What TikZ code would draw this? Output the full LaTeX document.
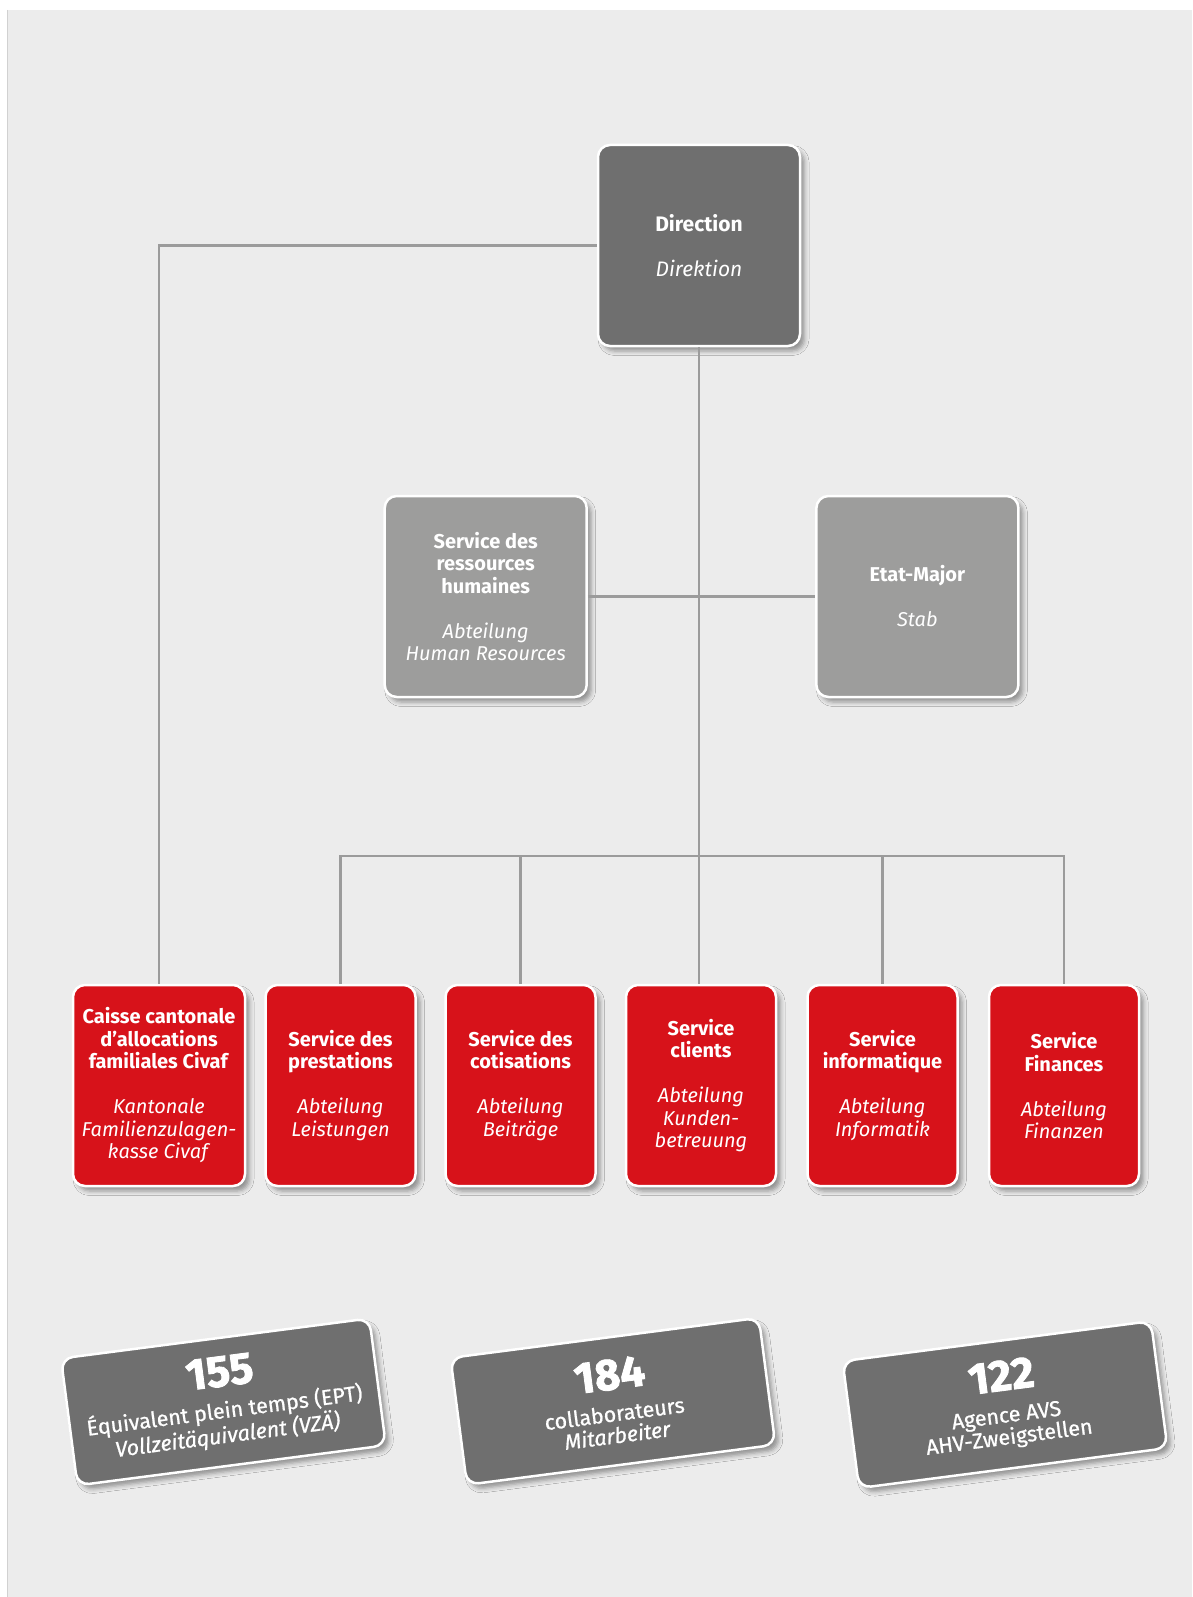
\documentclass[tikz,border=0pt]{standalone}
\usepackage{fontspec}
\setmainfont{Fira Sans}
\newfontfamily\heavyfont[FakeBold=2]{Fira Sans}
\newfontfamily\medfont[FakeBold=0.8]{Fira Sans}
\usetikzlibrary{shadows.blur}
\definecolor{bgc}{HTML}{ECECEC}
\definecolor{dgray}{HTML}{6F6F6F}
\definecolor{mgray}{HTML}{9D9D9C}
\definecolor{cred}{HTML}{D7121A}
\definecolor{conncol}{HTML}{9B9B9B}
\tikzset{
  box/.style={rounded corners=12pt, draw=white, line width=2.5pt, text=white,
    align=center, inner sep=0pt, minimum height=201pt,
    font=\fontsize{20}{22.5}\selectfont,
    blur shadow={shadow xshift=4.5pt, shadow yshift=-5pt, shadow blur radius=4.5pt, shadow opacity=38}},
  darkbox/.style={box, fill=dgray, minimum width=202pt},
  graybox/.style={box, fill=mgray, minimum width=202pt},
  redbox/.style={box, fill=cred, minimum width=150pt},
  statbox/.style={box, fill=dgray, minimum width=311pt, minimum height=128pt, rotate=7.4,
    font=\fontsize{21.5}{22}\selectfont},
  conn/.style={draw=conncol, line width=2.5pt}
}
\newcommand{\bignum}[1]{{\fontsize{44}{44}\selectfont\heavyfont\bfseries #1}}
\begin{document}
\begin{tikzpicture}[x=1pt,y=-1pt]
\useasboundingbox (0,0) rectangle (1192,1597);
\fill[white] (0,0) rectangle (1192,1597);
\fill[bgc] (7,10) rectangle (1192,1597);
\draw[draw=black!18, line width=0.8pt] (7.4,10) -- (7.4,1597);

% nodes
\node[darkbox, font=\fontsize{21}{22.5}\selectfont] (dir) at (699,245.5) {\textbf{Direction}\\[22.5pt]\textit{Direktion}};
\node[graybox] (hr) at (485.7,596.5) {\textbf{Service des}\\\textbf{ressources}\\\textbf{humaines}\\[22.5pt]\textit{Abteilung}\\\textit{Human Resources}};
\node[graybox] (etat) at (917.4,596.5) {\textbf{Etat-Major}\\[22.5pt]\textit{Stab}};

\node[redbox, minimum width=172pt] (caisse) at (159,1085.5) {\textbf{Caisse cantonale}\\\textbf{d’allocations}\\\textbf{familiales Civaf}\\[22.5pt]\textit{Kantonale}\\\textit{Familienzulagen-}\\\textit{kasse Civaf}};
\node[redbox] (prest) at (340.5,1085.5) {\textbf{Service des}\\\textbf{prestations}\\[22.5pt]\textit{Abteilung}\\\textit{Leistungen}};
\node[redbox] (cotis) at (520.5,1085.5) {\textbf{Service des}\\\textbf{cotisations}\\[22.5pt]\textit{Abteilung}\\\textit{Beiträge}};
\node[redbox] (clients) at (701,1085.5) {\textbf{Service}\\\textbf{clients}\\[22.5pt]\textit{Abteilung}\\\textit{Kunden-}\\\textit{betreuung}};
\node[redbox] (info) at (882.5,1085.5) {\textbf{Service}\\\textbf{informatique}\\[22.5pt]\textit{Abteilung}\\\textit{Informatik}};
\node[redbox] (fin) at (1064,1085.5) {\textbf{Service}\\\textbf{Finances}\\[22.5pt]\textit{Abteilung}\\\textit{Finanzen}};

% connectors
\coordinate (bus) at (0,855.8);
\draw[conn] (dir.west) -| (caisse.north);
\draw[conn] (dir.south) -- (dir.south |- clients.north);
\draw[conn] (hr.east) -- (etat.west);
\draw[conn] (prest.north) |- (fin.north |- bus) -- (fin.north);
\draw[conn] (cotis.north) -- (cotis.north |- bus);
\draw[conn] (info.north) -- (info.north |- bus);

% statistics
\node[statbox] (s1) at (223.4,1401.9) {\bignum{155}\\[10pt]{\medfont Équivalent plein temps (EPT)}\\{\medfont\itshape Vollzeitäquivalent (VZÄ)}};
\node[statbox] (s2) at (612.9,1401.3) {\bignum{184}\\[10pt]{\medfont collaborateurs}\\{\medfont\itshape Mitarbeiter}};
\node[statbox] (s3) at (1005,1404.6) {\bignum{122}\\[10pt]{\medfont Agence AVS}\\{\medfont AHV-Zweigstellen}};
\end{tikzpicture}
\end{document}
